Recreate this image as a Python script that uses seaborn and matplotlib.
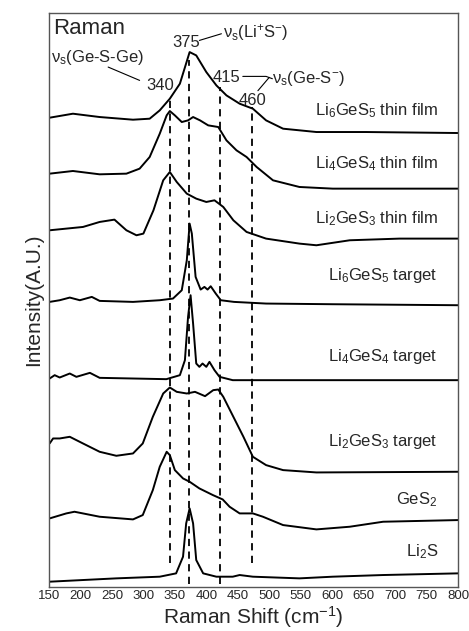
import matplotlib
matplotlib.use("Agg")
import matplotlib.pyplot as plt
import seaborn as sns
import pandas as pd

sns.set_theme(style="white")
plt.rcParams['font.family'] = ['Liberation Sans', 'DejaVu Sans']

li6_film_x = [151,188,230.5,283.5,310,326,342,358,373.5,384,400,416,432,453,474,495,522,575,654,800]
li6_film_y = [1409,1421,1411,1403,1406,1431,1466,1511,1606,1596,1546,1506,1476,1451,1436,1401,1376,1366,1366,1363]
li4_film_x = [151,188,230.5,273,294,310,326,337,342,350,361,371,379,390,403,419,432,448,464,480,506,548,601,707,800]
li4_film_y = [1241,1249,1239,1241,1256,1291,1361,1416,1429,1416,1396,1401,1411,1401,1386,1381,1341,1311,1291,1261,1221,1201,1196,1196,1196]
li2_film_x = [151,204,230.5,254,273,289,300,316,331.5,342,353,369,384,400,413,427,443,464,495,548,575,628,707,800]
li2_film_y = [1071,1081,1096,1103,1071,1056,1061,1131,1221,1246,1216,1181,1166,1156,1161,1141,1101,1066,1046,1031,1026,1041,1046,1046]
li6_tgt_x = [151,167,183,199,218,230.5,283.5,326,347,361,369,373.5,377,383,391,397,402,407,415,423,444,495,601,800]
li6_tgt_y = [856,861,869,861,871,859,856,861,866,891,981,1091,1061,931,893,901,893,903,881,861,856,851,849,846]
li4_tgt_x = [151,159,167,183,193.5,215,230.5,283.5,336.5,358,366,371,375,379,384,389,394,400,405,413,421,442,800]
li4_tgt_y = [626,636,629,641,631,643,628,626,624,636,681,811,876,791,671,661,671,661,676,651,631,621,621]
li2_tgt_x = [151,156.5,167,183,204,230.5,257,283.5,299,315,331.5,342,353,369,382,398,411,419,427,443,459,474,495,522,575,800]
li2_tgt_y = [431,446,446,451,431,406,394,401,431,511,581,599,586,581,586,573,591,593,571,511,451,391,366,351,344,346]
ges2_x = [151,177.5,190.5,230.5,283.5,299,315,326,337,342,350,363,373.5,389,410.5,426,437,453,474,490,522,575,628,681,800]
ges2_y = [206,221,226,211,203,216,291,361,406,396,351,326,316,296,276,263,241,221,221,211,186,173,181,196,201]
li2s_x = [151,204,257,326,352,363,368,373.5,379,384,395,416,442,453,474,548,601,681,800]
li2s_y = [16,21,26,31,41,91,191,236,191,81,41,31,31,36,31,26,31,36,41]

series = [
    (li6_film_x, li6_film_y, r"Li$_6$GeS$_5$ thin film", 1431),
    (li4_film_x, li4_film_y, r"Li$_4$GeS$_4$ thin film", 1271),
    (li2_film_x, li2_film_y, r"Li$_2$GeS$_3$ thin film", 1106),
    (li6_tgt_x, li6_tgt_y, r"Li$_6$GeS$_5$ target", 936),
    (li4_tgt_x, li4_tgt_y, r"Li$_4$GeS$_4$ target", 693),
    (li2_tgt_x, li2_tgt_y, r"Li$_2$GeS$_3$ target", 436),
    (ges2_x, ges2_y, r"GeS$_2$", 261),
    (li2s_x, li2s_y, r"Li$_2$S", 106),
]

dash_x = [342, 373, 421, 473]
dash_lo = [71, 10, 10, 71]
dash_hi = [1470, 1581, 1501, 1441]

xticks = list(range(150, 801, 50))

plt.rcParams['mathtext.fontset'] = 'custom'
plt.rcParams['mathtext.rm'] = 'Liberation Sans'
plt.rcParams['mathtext.it'] = 'Liberation Sans'

fig = plt.figure(figsize=(4.69, 6.31), dpi=100)
ax = fig.add_axes([0.1045, 0.0697, 0.872, 0.909])
for xs, ys, lab, ly in series:
    df = pd.DataFrame({"x": xs, "y": ys})
    sns.lineplot(data=df, x="x", y="y", ax=ax, color="black", lw=1.4)
    ax.text(768, ly, lab, ha="right", va="center", fontsize=12)
for dx, lo, hi in zip(dash_x, dash_lo, dash_hi):
    ax.plot([dx, dx], [lo, hi], color="black", ls="--", lw=1.3, dashes=(4, 3))

ax.text(157, 1676, "Raman", fontsize=16, va="center")
ax.text(368, 1636, "375", fontsize=12, ha="center", va="center")
ax.plot([389, 424], [1641, 1661], color="black", lw=0.8)
ax.text(427, 1666, r"$\nu_s$(Li$^{+}$S$^{-}$)", fontsize=12, va="center")
ax.text(153.7, 1591, r"$\nu_s$(Ge-S-Ge)", fontsize=12, va="center")
ax.plot([244, 294], [1561, 1521], color="black", lw=0.8)
ax.text(326, 1506, "340", fontsize=12, ha="center", va="center")
ax.text(432, 1531, "415", fontsize=12, ha="center", va="center")
ax.plot([458, 495, 505], [1533, 1533, 1526], color="black", lw=0.8)
ax.plot([500, 482], [1530, 1490], color="black", lw=0.8)
ax.text(505, 1526, r"$\nu_s$(Ge-S$^{-}$)", fontsize=12, va="center")
ax.text(474, 1461, "460", fontsize=12, ha="center", va="center")

ax.set_xlim(150, 800)
ax.set_ylim(0, 1722)
ax.set_xticks(xticks)
ax.set_xticklabels([str(t) for t in xticks], fontsize=9.5)
ax.set_yticks([])
ax.set_xlabel(r"Raman Shift (cm$^{-1}$)", fontsize=15, labelpad=2)
ax.set_ylabel("Intensity(A.U.)", fontsize=15)
for s in ax.spines.values():
    s.set_color("#555555")
    s.set_linewidth(1)
ax.tick_params(axis="x", length=0, pad=2)
fig.savefig("out.png", dpi=100)
